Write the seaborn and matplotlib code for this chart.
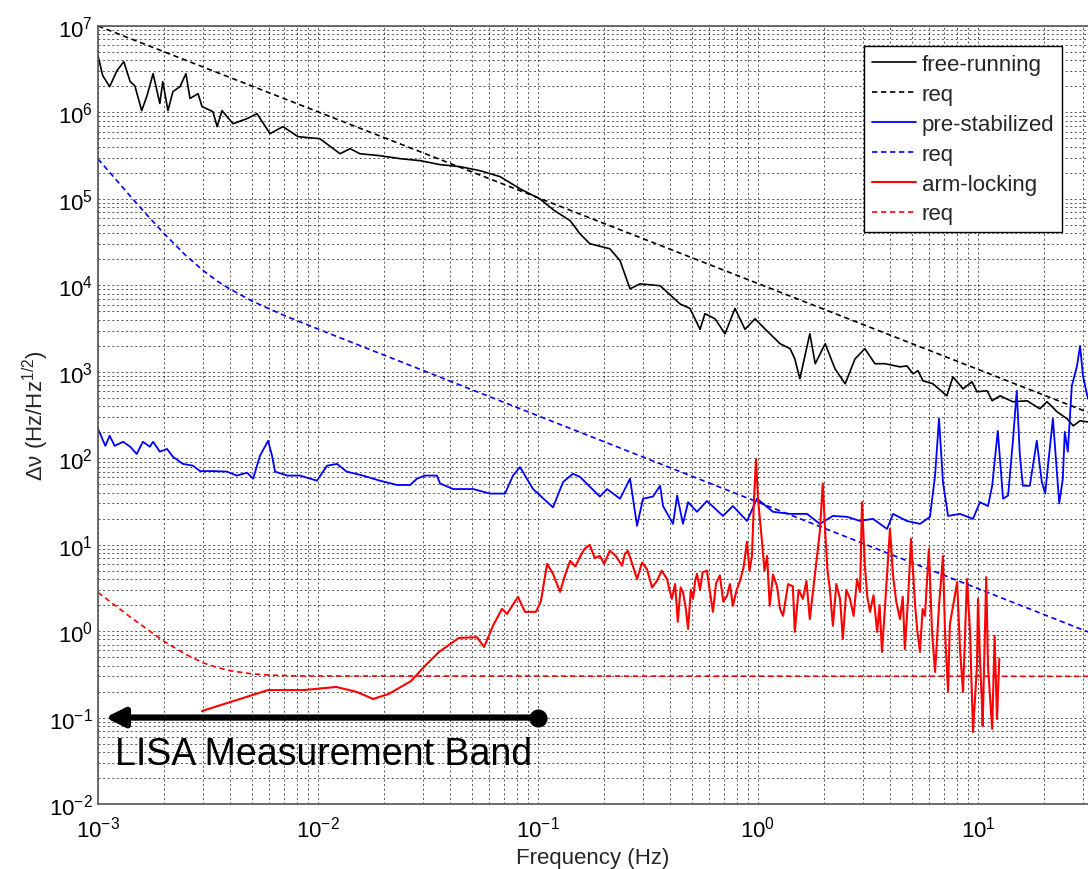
import numpy as np
import pandas as pd
import matplotlib
matplotlib.use("Agg")
import matplotlib.pyplot as plt
import seaborn as sns
from matplotlib.ticker import LogLocator, FixedLocator, LogFormatterMathtext, NullFormatter

# ---------------- data ----------------
free_f = [1.00e-3, 1.05e-3, 1.13e-3, 1.22e-3, 1.31e-3, 1.40e-3, 1.47e-3, 1.58e-3, 1.67e-3, 1.78e-3,
          1.91e-3, 1.97e-3, 2.08e-3, 2.19e-3, 2.36e-3, 2.51e-3, 2.62e-3, 2.85e-3, 2.97e-3, 3.33e-3,
          3.48e-3, 3.66e-3, 4.11e-3, 4.76e-3, 5.28e-3, 6.05e-3, 6.93e-3, 8.11e-3, 1.02e-2, 1.26e-2,
          1.40e-2, 1.55e-2, 1.91e-2, 2.36e-2, 2.91e-2, 3.59e-2, 4.42e-2, 5.45e-2, 6.72e-2, 8.28e-2,
          0.102, 0.119, 0.140, 0.155, 0.172, 0.212, 0.236, 0.262, 0.291, 0.359,
          0.442, 0.491, 0.545, 0.574, 0.638, 0.708, 0.786, 0.873, 0.969, 1.08,
          1.26, 1.40, 1.47, 1.55, 1.72, 1.82, 2.02, 2.24, 2.49, 2.76,
          3.06, 3.40, 3.78, 4.42, 4.75, 5.07, 5.34, 5.62, 6.24, 7.22,
          7.69, 8.55, 9.39, 9.89, 11.0, 11.6, 12.6, 14.4, 16.7, 19.1,
          20.6, 22.9, 25.4, 27.1, 29.1, 31.6]
free_v = [4.54e6, 2.67e6, 1.99e6, 3.05e6, 3.87e6, 2.27e6, 2.04e6, 1.05e6, 1.56e6, 2.81e6,
          1.27e6, 2.27e6, 1.05e6, 1.74e6, 1.99e6, 2.81e6, 1.45e6, 1.65e6, 1.17e6, 1.02e6,
          6.85e5, 1.05e6, 7.41e5, 8.48e5, 9.68e5, 5.69e5, 6.85e5, 5.25e5, 4.97e5, 3.33e5,
          3.81e5, 3.33e5, 3.16e5, 2.92e5, 2.77e5, 2.49e5, 2.36e5, 2.12e5, 1.81e5, 1.31e5,
          1.00e5, 7.3e4, 5.6e4, 3.96e4, 3.03e4, 2.65e4, 1.93e4, 9.1e3, 1.04e4, 9.9e3,
          6.1e3, 5.4e3, 3.1e3, 4.7e3, 4.1e3, 2.75e3, 5.4e3, 3.1e3, 4.1e3, 3.1e3,
          2.11e3, 1.85e3, 1.41e3, 8.3e2, 2.75e3, 1.24e3, 2.11e3, 1.08e3, 7.26e2, 1.41e3,
          1.85e3, 1.24e3, 1.24e3, 1.14e3, 1.17e3, 9.48e2, 1.03e3, 7.87e2, 7.26e2, 5.27e2,
          8.75e2, 6.35e2, 7.66e2, 5.87e2, 6.03e2, 4.62e2, 5.27e2, 4.50e2, 4.62e2, 3.73e2,
          4.50e2, 3.44e2, 2.86e2, 2.37e2, 2.71e2, 2.63e2]

free_req_f = [1.0e-3, 31.6]
free_req_v = [1.0e7, 3.4e2]

pre_f = [1.00e-3, 1.08e-3, 1.13e-3, 1.19e-3, 1.30e-3, 1.40e-3, 1.50e-3, 1.60e-3, 1.72e-3, 1.78e-3,
         1.91e-3, 2.06e-3, 2.19e-3, 2.43e-3, 2.70e-3, 2.91e-3, 3.33e-3, 3.85e-3, 4.28e-3, 4.76e-3,
         5.07e-3, 5.45e-3, 5.93e-3, 6.18e-3, 6.38e-3, 7.24e-3, 8.28e-3, 9.89e-3, 1.10e-2, 1.22e-2,
         1.35e-2, 1.60e-2, 1.91e-2, 2.29e-2, 2.62e-2, 2.82e-2, 3.06e-2, 3.47e-2, 3.59e-2, 4.11e-2,
         5.07e-2, 6.05e-2, 7.08e-2, 7.70e-2, 8.28e-2, 9.49e-2, 0.117, 0.130, 0.144, 0.155,
         0.191, 0.206, 0.236, 0.262, 0.282, 0.300, 0.333, 0.359, 0.370, 0.411,
         0.429, 0.456, 0.481, 0.528, 0.586, 0.693, 0.769, 0.891, 0.990, 1.17,
         1.40, 1.67, 1.91, 2.19, 2.54, 2.91, 3.33, 3.86, 4.11, 4.75,
         5.45, 6.05, 6.38, 6.65, 6.93, 7.31, 8.28, 9.49, 10.2, 11.1,
         11.6, 12.3, 13.0, 13.7, 14.4, 15.0, 15.5, 16.0, 17.2, 18.5,
         19.5, 20.2, 20.8, 21.9, 22.9, 23.4, 24.3, 24.8, 25.6, 26.7,
         28.2, 29.1, 30.0, 31.6]
pre_v = [219, 139, 182, 139, 155, 136, 112, 155, 136, 155,
         119, 128, 104, 86, 82, 71, 71, 70, 63, 68,
         58, 107, 159, 107, 70, 63, 63, 55, 82, 86,
         70, 63, 55, 49, 49, 58, 63, 63, 51, 44,
         44, 39, 39, 63, 79, 44, 27, 53, 66, 61,
         36, 44, 34, 58, 16.5, 34, 36, 48, 28, 17.4,
         37, 17.4, 31, 24, 32, 21.5, 28, 18.8, 34, 24,
         22.7, 22.7, 17.4, 21.5, 21, 18.8, 19.9, 15.2, 22.7, 18.8,
         17.4, 21, 63, 286, 53, 21.5, 22.7, 19.9, 31, 28,
         48, 207, 34, 37, 155, 603, 107, 48, 48, 159,
         53, 39, 82, 286, 63, 30, 58, 202, 119, 689,
         1170, 2000, 899, 487]

pre_req_f = [1.0e-3, 1.2e-3, 1.4e-3, 1.7e-3, 2.0e-3, 2.5e-3, 3.0e-3, 3.5e-3, 4.0e-3, 5.0e-3,
             6.0e-3, 7.0e-3, 8.0e-3, 1.0e-2, 0.1, 1.0, 10.0, 31.6]
pre_req_v = [2.9e5, 1.7e5, 1.08e5, 6.2e4, 3.95e4, 2.23e4, 1.49e4, 1.11e4, 9.0e3, 6.6e3,
             5.35e3, 4.5e3, 3.92e3, 3.12e3, 310, 31, 3.1, 0.98]

arm_f = [2.97e-3, 5.93e-3, 8.63e-3, 1.21e-2, 1.50e-2, 1.78e-2, 2.10e-2, 2.65e-2, 3.06e-2, 3.55e-2,
         4.37e-2, 5.28e-2, 5.69e-2, 6.24e-2, 6.86e-2, 7.23e-2, 8.11e-2, 8.73e-2, 9.79e-2, 0.103,
         0.110, 0.117, 0.126, 0.133, 0.140, 0.148, 0.155, 0.163, 0.172, 0.181,
         0.191, 0.200, 0.212, 0.225, 0.241, 0.248, 0.256, 0.268, 0.282, 0.297,
         0.313, 0.330, 0.347, 0.365, 0.386, 0.396, 0.406, 0.420, 0.432, 0.445,
         0.456, 0.470, 0.481, 0.495, 0.507, 0.518, 0.528, 0.545, 0.560, 0.586,
         0.605, 0.624, 0.645, 0.671, 0.695, 0.723, 0.745, 0.769, 0.800, 0.828,
         0.860, 0.891, 0.915, 0.939, 0.959, 0.980, 1.00, 1.02, 1.04, 1.07,
         1.10, 1.13, 1.17, 1.22, 1.26, 1.30, 1.37, 1.44, 1.47, 1.53,
         1.60, 1.66, 1.72, 1.82, 1.91, 1.97, 2.02, 2.07, 2.12, 2.19,
         2.27, 2.36, 2.43, 2.52, 2.62, 2.72, 2.82, 2.91, 2.97, 3.06,
         3.14, 3.23, 3.35, 3.48, 3.57, 3.66, 3.78, 3.98, 4.11, 4.25,
         4.42, 4.55, 4.65, 4.81, 4.96, 5.18, 5.30, 5.45, 5.60, 5.74,
         5.98, 6.18, 6.38, 6.65, 6.93, 7.08, 7.31, 7.45, 7.62, 8.04,
         8.28, 8.55, 8.91, 9.20, 9.49, 9.89, 10.0, 10.2, 10.4, 10.5,
         10.9, 11.1, 11.6, 11.9, 12.2, 12.5]
arm_v = [0.119, 0.208, 0.208, 0.226, 0.198, 0.164, 0.188, 0.265, 0.395, 0.574,
         0.834, 0.85, 0.656, 1.15, 1.81, 1.58, 2.49, 1.67, 1.67, 2.2,
         6.0, 4.6, 2.84, 4.5, 6.5, 5.6, 7.2, 9.0, 9.95, 7.0,
         7.4, 6.0, 8.5, 7.5, 5.7, 7.8, 8.5, 6.0, 4.0, 6.2,
         5.2, 3.2, 3.8, 5.0, 4.0, 3.0, 2.36, 3.5, 1.28, 3.2,
         2.84, 1.8, 1.06, 3.0, 2.36, 3.8, 4.6, 3.0, 4.8, 5.0,
         2.8, 1.67, 3.6, 4.4, 2.2, 2.55, 3.5, 1.96, 3.0, 3.8,
         5.5, 10.8, 5.0, 7.4, 34, 98, 34, 20, 11.7, 5.0,
         7.4, 1.96, 4.5, 3.3, 1.8, 1.50, 3.5, 3.3, 0.98, 3.0,
         2.36, 3.8, 1.38, 4.8, 14.1, 51, 14.1, 5.0, 3.1, 1.15,
         3.5, 2.36, 0.81, 3.0, 2.36, 1.5, 4.0, 2.84, 31, 5.7,
         2.5, 1.67, 2.6, 0.98, 2.0, 0.574, 1.96, 15.2, 4.4, 2.2,
         1.38, 2.5, 0.62, 2.36, 11.7, 1.96, 1.0, 0.574, 1.8, 1.50,
         8.9, 0.98, 0.337, 1.96, 7.4, 0.98, 0.198, 1.2, 1.67, 3.7,
         0.62, 0.198, 4.0, 0.98, 0.068, 0.395, 2.36, 0.5, 0.164, 0.080,
         4.2, 0.395, 0.074, 0.88, 0.096, 0.48]

arm_req_f = [1.0e-3, 1.2e-3, 1.4e-3, 1.7e-3, 2.0e-3, 2.5e-3, 3.0e-3, 3.5e-3, 4.0e-3, 5.0e-3,
             6.0e-3, 8.0e-3, 31.6]
arm_req_v = [2.8, 1.97, 1.46, 1.02, 0.76, 0.54, 0.43, 0.378, 0.348, 0.32,
             0.31, 0.303, 0.30]

series_labels = ["free-running", "req", "pre-stabilized", "req", "arm-locking", "req"]
band_label = "LISA Measurement Band"
band_f = [1.08e-3, 0.1]
band_v = 0.1
x_label = "Frequency (Hz)"
y_label = "Δν (Hz/Hz$^{1/2}$)"
x_ticks = [1e-3, 1e-2, 1e-1, 1e0, 1e1]
y_ticks = [1e-2, 1e-1, 1e0, 1e1, 1e2, 1e3, 1e4, 1e5, 1e6, 1e7]

# ---------------- style ----------------
sns.set_style("white")
plt.rcParams["font.family"] = ["Liberation Sans", "DejaVu Sans"]
plt.rcParams["mathtext.fontset"] = "custom"
plt.rcParams["mathtext.rm"] = "Liberation Sans"
plt.rcParams["mathtext.it"] = "Liberation Sans:italic"
plt.rcParams["mathtext.bf"] = "Liberation Sans:bold"

fig = plt.figure(figsize=(10.88, 8.70), dpi=100)
ax = fig.add_axes([98 / 1088, 65 / 870, 990 / 1088, 778 / 870])

dash = (0, (3.2, 2.2))
specs = [
    (free_f, free_v, "black", "-", 1.2),
    (free_req_f, free_req_v, "black", dash, 1.2),
    (pre_f, pre_v, "#0000ff", "-", 1.3),
    (pre_req_f, pre_req_v, "#0000ff", dash, 1.2),
    (arm_f, arm_v, "#ff0000", "-", 1.5),
    (arm_req_f, arm_req_v, "#ff0000", dash, 1.2),
]
for (fx, fy, col, ls, lw), lab in zip(specs, series_labels):
    df = pd.DataFrame({"f": fx, "v": fy})
    sns.lineplot(data=df, x="f", y="v", ax=ax, color=col, linestyle=ls, linewidth=lw,
                 label=lab, estimator=None, sort=False)

ax.set_xscale("log")
ax.set_yscale("log")
ax.set_xlim(1e-3, 10 ** 1.5)
ax.set_ylim(1e-2, 1e7)

ax.xaxis.set_major_locator(FixedLocator(x_ticks))
ax.yaxis.set_major_locator(FixedLocator(y_ticks))
ax.xaxis.set_minor_locator(LogLocator(base=10, subs=np.arange(2, 10), numticks=200))
ax.yaxis.set_minor_locator(LogLocator(base=10, subs=np.arange(2, 10), numticks=200))
ax.xaxis.set_major_formatter(LogFormatterMathtext())
ax.yaxis.set_major_formatter(LogFormatterMathtext())
ax.xaxis.set_minor_formatter(NullFormatter())
ax.yaxis.set_minor_formatter(NullFormatter())

ax.grid(True, which="both", color="black", linestyle=(0, (2.5, 3.0)), linewidth=0.6, alpha=0.75)
ax.set_axisbelow(True)
ax.tick_params(which="both", direction="in", colors="#333333", labelcolor="black",
               labelsize=16, top=False, right=False)
ax.tick_params(which="major", length=6, width=0.8)
ax.tick_params(which="minor", length=4, width=0.8)
ax.tick_params(axis="x", pad=8)
for name in ["left", "bottom", "top"]:
    ax.spines[name].set_visible(True)
    ax.spines[name].set_color("#555555")
    ax.spines[name].set_linewidth(1.2)
ax.spines["right"].set_visible(False)

ax.set_xlabel(x_label, fontsize=16, labelpad=4)
ax.set_ylabel(y_label, fontsize=16, labelpad=-1)

# LISA band arrow
ax.annotate("", xy=(band_f[0], band_v), xytext=(band_f[1], band_v),
            arrowprops=dict(arrowstyle="-|>", color="black", lw=4.5, mutation_scale=28,
                            shrinkA=0, shrinkB=0))
ax.plot([band_f[1]], [band_v], marker="o", markersize=12, color="black", zorder=5)
ax.text(1.19e-3, 0.029, band_label, fontsize=27, color="black", va="baseline", ha="left")

leg = ax.legend(loc="upper right", bbox_to_anchor=(0.974, 0.974), borderaxespad=0,
                fontsize=16, frameon=True, fancybox=False, framealpha=1,
                edgecolor="black", handlelength=2.0, handletextpad=0.25,
                labelspacing=0.4, borderpad=0.35)
leg.get_frame().set_linewidth(1.0)

fig.savefig("out.png", dpi=100)
